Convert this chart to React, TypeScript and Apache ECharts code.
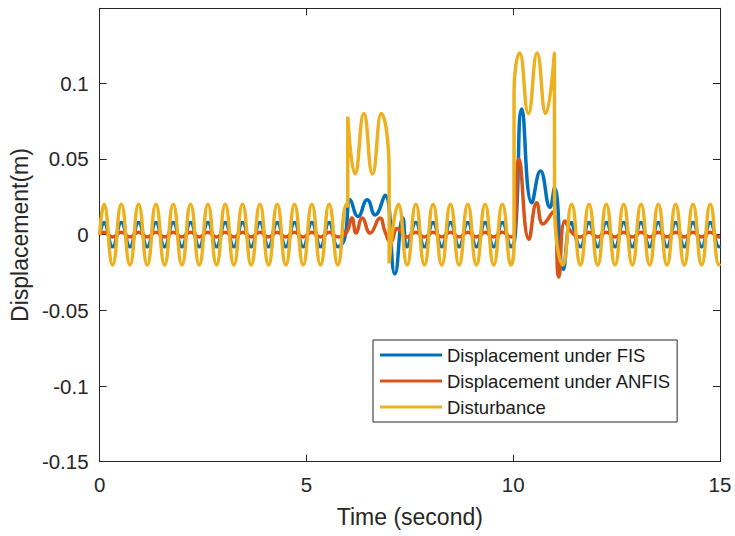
import { useEffect, useRef } from "react";
import * as echarts from "echarts";

// Series names, in legend order
const seriesNames = ["Displacement under FIS", "Displacement under ANFIS", "Disturbance"];

// Axis ranges and tick spacing
const xRange = [0, 15];
const xStep = 5;
const yRange = [-0.15, 0.1495];
const yStep = 0.05;

// [time (s), displacement (m)] — turning points of each trace
const fisData: [number, number][] = [
  [0, 0], [0.105, 0.008], [0.314, -0.008], [0.524, 0.008], [0.733, -0.008], [0.942, 0.008],
  [1.152, -0.008], [1.361, 0.008], [1.571, -0.008], [1.78, 0.008], [1.99, -0.008], [2.199, 0.008],
  [2.409, -0.008], [2.618, 0.008], [2.827, -0.008], [3.037, 0.008], [3.246, -0.008], [3.456, 0.008],
  [3.665, -0.008], [3.875, 0.008], [4.084, -0.008], [4.294, 0.008], [4.503, -0.008], [4.712, 0.008],
  [4.922, -0.008], [5.131, 0.008], [5.341, -0.008], [5.55, 0.008], [5.76, -0.008], [5.92, -0.003],
  [6.06, 0.023], [6.25, 0.012], [6.47, 0.023], [6.66, 0.013], [6.9, 0.026], [7.14, -0.026],
  [7.33, 0.011], [7.435, -0.008], [7.645, 0.008], [7.854, -0.008], [8.063, 0.008], [8.273, -0.008],
  [8.482, 0.008], [8.692, -0.008], [8.901, 0.008], [9.111, -0.008], [9.32, 0.008], [9.529, -0.008],
  [9.739, 0.008], [9.948, -0.008], [10.05, 0.0], [10.21, 0.083], [10.45, 0.021], [10.66, 0.042],
  [10.89, 0.018], [11.0, 0.031], [11.21, -0.023], [11.4, 0.008], [11.624, -0.008], [11.833, 0.008],
  [12.043, -0.008], [12.252, 0.008], [12.462, -0.008], [12.671, 0.008], [12.881, -0.008], [13.09, 0.008],
  [13.299, -0.008], [13.509, 0.008], [13.718, -0.008], [13.928, 0.008], [14.137, -0.008], [14.347, 0.008],
  [14.556, -0.008], [14.765, 0.008], [14.975, -0.008], [15, -0.007],
];

const anfisData: [number, number][] = [
  [0, 0], [0.105, 0.0015], [0.314, -0.0015], [0.524, 0.0015], [0.733, -0.0015], [0.942, 0.0015],
  [1.152, -0.0015], [1.361, 0.0015], [1.571, -0.0015], [1.78, 0.0015], [1.99, -0.0015], [2.199, 0.0015],
  [2.409, -0.0015], [2.618, 0.0015], [2.827, -0.0015], [3.037, 0.0015], [3.246, -0.0015], [3.456, 0.0015],
  [3.665, -0.0015], [3.875, 0.0015], [4.084, -0.0015], [4.294, 0.0015], [4.503, -0.0015], [4.712, 0.0015],
  [4.922, -0.0015], [5.131, 0.0015], [5.341, -0.0015], [5.55, 0.0015], [5.76, -0.0015], [5.969, 0.0015],
  [6.1, 0.011], [6.2, 0.001], [6.35, 0.011], [6.54, 0.001], [6.78, 0.011], [6.9, 0.002],
  [7.04, -0.005], [7.2, 0.004], [7.435, -0.0015], [7.645, 0.0015], [7.854, -0.0015], [8.063, 0.0015],
  [8.273, -0.0015], [8.482, 0.0015], [8.692, -0.0015], [8.901, 0.0015], [9.111, -0.0015], [9.32, 0.0015],
  [9.529, -0.0015], [9.739, 0.0015], [9.948, -0.0015], [10.03, 0.0], [10.14, 0.05], [10.38, -0.003],
  [10.57, 0.021], [10.72, 0.007], [10.96, 0.015], [11.1, -0.028], [11.25, 0.009], [11.414, 0.0015],
  [11.624, -0.0015], [11.833, 0.0015], [12.043, -0.0015], [12.252, 0.0015], [12.462, -0.0015], [12.671, 0.0015],
  [12.881, -0.0015], [13.09, 0.0015], [13.299, -0.0015], [13.509, 0.0015], [13.718, -0.0015], [13.928, 0.0015],
  [14.137, -0.0015], [14.347, 0.0015], [14.556, -0.0015], [14.765, 0.0015], [14.975, -0.0015], [15, -0.0014],
];

const disturbanceData: [number, number][] = [
  [0, 0], [0.105, 0.02], [0.314, -0.02], [0.524, 0.02], [0.733, -0.02], [0.942, 0.02],
  [1.152, -0.02], [1.361, 0.02], [1.571, -0.02], [1.78, 0.02], [1.99, -0.02], [2.199, 0.02],
  [2.409, -0.02], [2.618, 0.02], [2.827, -0.02], [3.037, 0.02], [3.246, -0.02], [3.456, 0.02],
  [3.665, -0.02], [3.875, 0.02], [4.084, -0.02], [4.294, 0.02], [4.503, -0.02], [4.712, 0.02],
  [4.922, -0.02], [5.131, 0.02], [5.341, -0.02], [5.55, 0.02], [5.76, -0.02], [5.969, 0.02],
  [6.0, 0.018], [6.0, 0.078], [6.178, 0.04], [6.388, 0.08], [6.597, 0.04], [6.807, 0.08],
  [7.0, 0.041], [7.0, -0.019], [7.226, 0.02], [7.435, -0.02], [7.645, 0.02], [7.854, -0.02],
  [8.063, 0.02], [8.273, -0.02], [8.482, 0.02], [8.692, -0.02], [8.901, 0.02], [9.111, -0.02],
  [9.32, 0.02], [9.529, -0.02], [9.739, 0.02], [9.948, -0.02], [10.02, -0.006], [10.02, 0.094],
  [10.158, 0.12], [10.367, 0.08], [10.577, 0.12], [10.786, 0.08], [10.996, 0.12], [11.0, 0.02],
  [11.205, -0.02], [11.414, 0.02], [11.624, -0.02], [11.833, 0.02], [12.043, -0.02], [12.252, 0.02],
  [12.462, -0.02], [12.671, 0.02], [12.881, -0.02], [13.09, 0.02], [13.299, -0.02], [13.509, 0.02],
  [13.718, -0.02], [13.928, 0.02], [14.137, -0.02], [14.347, 0.02], [14.556, -0.02], [14.765, 0.02],
  [14.975, -0.02], [15, -0.019],
];

const seriesData = [fisData, anfisData, disturbanceData];
const seriesColors = ["#0072BD", "#D95319", "#EDB120"];

const FONT = "'Liberation Sans', Arial, Helvetica, sans-serif";
const AXIS_COLOR = "#262626";

const axisLine = { show: true, onZero: false, lineStyle: { color: AXIS_COLOR, width: 1 } };
const axisTick = { show: true, inside: true, length: 7, lineStyle: { color: AXIS_COLOR, width: 1 } };

export default function App() {
  const ref = useRef<HTMLDivElement>(null);

  useEffect(() => {
    if (!ref.current) return;
    const chart = echarts.init(ref.current, undefined, { renderer: "svg" });
    const fmt = (v: number) => String(Number(v.toFixed(2)));
    chart.setOption({
      animation: false,
      backgroundColor: "#ffffff",
      grid: { left: 99.5, top: 8.3, width: 620.5, height: 453.4, containLabel: false },
      legend: {
        data: seriesNames,
        orient: "vertical",
        left: 373,
        top: 340,
        selectedMode: false,
        icon: "rect",
        backgroundColor: "#ffffff",
        borderColor: AXIS_COLOR,
        borderWidth: 1,
        borderRadius: 0,
        padding: [5, 6, 5, 7],
        itemGap: 6,
        itemWidth: 62,
        itemHeight: 3,
        textStyle: { fontSize: 18.5, color: "#1a1a1a", fontFamily: FONT, lineHeight: 20 },
      },
      xAxis: [
        {
          type: "value",
          min: xRange[0],
          max: xRange[1],
          interval: xStep,
          position: "bottom",
          axisLine,
          axisTick,
          splitLine: { show: false },
          axisLabel: { color: AXIS_COLOR, fontSize: 20.5, margin: 12, fontFamily: FONT },
          name: "Time (second)",
          nameLocation: "middle",
          nameGap: 44,
          nameTextStyle: { color: AXIS_COLOR, fontSize: 23, fontFamily: FONT },
        },
        {
          type: "value",
          min: xRange[0],
          max: xRange[1],
          interval: xStep,
          position: "top",
          axisLine,
          axisTick,
          splitLine: { show: false },
          axisLabel: { show: false },
        },
      ],
      yAxis: [
        {
          type: "value",
          min: yRange[0],
          max: yRange[1],
          interval: yStep,
          position: "left",
          axisLine,
          axisTick,
          splitLine: { show: false },
          axisLabel: {
            color: AXIS_COLOR,
            fontSize: 20.5,
            margin: 11,
            fontFamily: FONT,
            showMaxLabel: false,
            formatter: fmt,
          },
          name: "Displacement(m)",
          nameLocation: "middle",
          nameGap: 64,
          nameRotate: 90,
          nameTextStyle: { color: AXIS_COLOR, fontSize: 23, fontFamily: FONT },
        },
        {
          type: "value",
          min: yRange[0],
          max: yRange[1],
          interval: yStep,
          position: "right",
          axisLine,
          axisTick,
          splitLine: { show: false },
          axisLabel: { show: false },
        },
      ],
      series: seriesNames.map((name, i) => ({
        name,
        type: "line",
        data: seriesData[i],
        xAxisIndex: 0,
        yAxisIndex: 0,
        smooth: true,
        symbol: "none",
        showSymbol: false,
        color: seriesColors[i],
        itemStyle: { color: seriesColors[i] },
        lineStyle: { color: seriesColors[i], width: 3.5 },
        z: 2 + i,
      })),
    });
    return () => chart.dispose();
  }, []);

  return (
    <div
      ref={ref}
      style={{ position: "absolute", left: 0, top: 0, width: 735, height: 536, background: "#fff" }}
    />
  );
}
